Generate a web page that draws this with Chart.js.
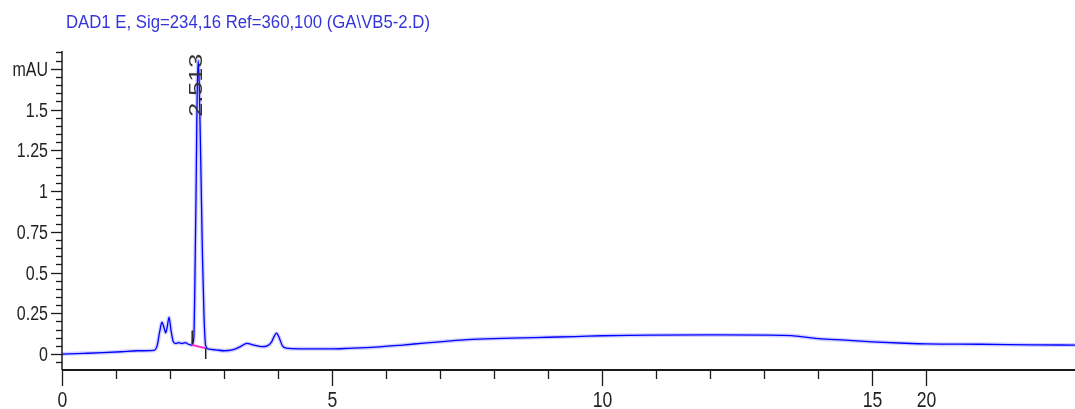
<!DOCTYPE html>
<html>
<head>
<meta charset="utf-8">
<script src="https://cdn.jsdelivr.net/npm/chart.js@4.4.1/dist/chart.umd.min.js"></script>
<style>
  html,body{margin:0;padding:0;background:#fff;}
  canvas{display:block;}
</style>
</head>
<body>
<canvas id="c" width="1075" height="409"></canvas>
<script>
// ---- data (retention time in min, signal in mAU) ----
const titleText = "DAD1 E, Sig=234,16 Ref=360,100 (GA\\VB5-2.D)";
const yUnit = "mAU";
const times = [0.0, 0.4, 0.75, 1.1, 1.4, 1.7, 1.76, 1.81, 1.85, 1.89, 1.92, 1.95, 1.98, 2.02, 2.06, 2.1, 2.16, 2.22, 2.28, 2.34, 2.4,
  2.44, 2.46, 2.48, 2.5, 2.52, 2.54, 2.57, 2.6, 2.63, 2.66, 2.72, 2.85, 3.0, 3.15, 3.3, 3.42, 3.55, 3.7, 3.8, 3.88, 3.93, 3.97, 4.02, 4.08, 4.15,
  4.4, 5.0, 5.3, 5.8, 6.3, 6.7, 7.1, 7.5, 8.0, 8.5, 9.0, 9.5, 10.0, 10.5, 11.0, 12.0, 13.0, 13.5, 13.8, 14.0, 14.5, 15.0, 15.6, 16.0, 17.0, 18.0, 18.75];
const signal = [0.0, 0.004, 0.008, 0.014, 0.02, 0.023, 0.05, 0.14, 0.195, 0.16, 0.13, 0.17, 0.225, 0.14, 0.075, 0.065, 0.07, 0.065, 0.07, 0.06, 0.055,
  0.10, 0.45, 0.95, 1.55, 1.80, 1.66, 1.15, 0.6, 0.22, 0.05, 0.03, 0.025, 0.02, 0.025, 0.045, 0.065, 0.055, 0.045, 0.05, 0.075, 0.11, 0.128, 0.1, 0.05, 0.036,
  0.032, 0.032, 0.035, 0.042, 0.055, 0.067, 0.078, 0.088, 0.095, 0.099, 0.103, 0.107, 0.112, 0.115, 0.116, 0.117, 0.116, 0.113, 0.102, 0.094, 0.085, 0.075, 0.066, 0.062, 0.06, 0.056, 0.055];
// integrated peak
const peakTime = 2.513;
const peakLabel = "2.513";
const peakApex = 1.80;
const baselineTimes = [2.41, 2.66];
const baselineValues = [0.055, 0.035];
const startMarkTimes = [2.41, 2.41];
const startMarkValues = [0.06, 0.145];
const endMarkTimes = [2.66, 2.66];
const endMarkValues = [0.035, -0.03];
// axes
const xMajorTicks = [0, 5, 10, 15, 16];
const xTickLabels = ["0", "5", "10", "15", "20"];
const xMinorTicks = [1, 2, 3, 4, 6, 7, 8, 9, 11, 12, 13, 14];
const yMajorTicks = [0, 0.25, 0.5, 0.75, 1, 1.25, 1.5, 1.75];
const yTickLabels = ["0", "0.25", "0.5", "0.75", "1", "1.25", "1.5", yUnit];
const yMinorStep = 0.05;
const xRange = [0, 18.75];
const yRange = [-0.098, 1.859];

const pts = (xs, ys) => xs.map((t, i) => ({x: t, y: ys[i]}));
const FONT = '"Liberation Sans",Arial,sans-serif';

function narrowText(ctx, text, x, y, size, sx, align, baseline) {
  ctx.save();
  ctx.font = size + 'px ' + FONT;
  ctx.textAlign = align; ctx.textBaseline = baseline;
  ctx.translate(x, y);
  ctx.scale(sx, 1);
  ctx.fillText(text, 0, 0);
  ctx.restore();
}

const decor = {
  id: 'decor',
  afterDraw(chart) {
    const {ctx, chartArea: a, scales: {x, y}} = chart;
    ctx.save();
    ctx.strokeStyle = '#1a1a1a';
    // y axis line
    ctx.lineWidth = 1.5;
    ctx.beginPath(); ctx.moveTo(a.left, a.top); ctx.lineTo(a.left, a.bottom); ctx.stroke();
    // y ticks
    ctx.lineWidth = 1.3;
    const nMin = Math.ceil(yRange[0] / yMinorStep), nMax = Math.floor(yRange[1] / yMinorStep);
    for (let k = nMin; k <= nMax; k++) {
      const v = k * yMinorStep;
      const isMajor = yMajorTicks.some(m => Math.abs(m - v) < 1e-6);
      const py = Math.round(y.getPixelForValue(v)) + 0.5;
      ctx.beginPath(); ctx.moveTo(a.left - (isMajor ? 11 : 6), py); ctx.lineTo(a.left, py); ctx.stroke();
    }
    // y labels
    ctx.fillStyle = '#222';
    yMajorTicks.forEach((v, i) => {
      narrowText(ctx, yTickLabels[i], a.left - 14, y.getPixelForValue(v) + 7, 20, 0.8, 'right', 'alphabetic');
    });
    // x axis line
    ctx.lineWidth = 2;
    ctx.beginPath(); ctx.moveTo(a.left, a.bottom); ctx.lineTo(a.right, a.bottom); ctx.stroke();
    ctx.lineWidth = 1.3;
    xMajorTicks.forEach((v, i) => {
      const px = Math.round(x.getPixelForValue(v)) + 0.5;
      ctx.beginPath(); ctx.moveTo(px, a.bottom); ctx.lineTo(px, a.bottom + 16); ctx.stroke();
      narrowText(ctx, xTickLabels[i], px, a.bottom + 37, 22, 0.8, 'center', 'alphabetic');
    });
    xMinorTicks.forEach(v => {
      const px = Math.round(x.getPixelForValue(v)) + 0.5;
      ctx.beginPath(); ctx.moveTo(px, a.bottom); ctx.lineTo(px, a.bottom + 9); ctx.stroke();
    });
    // title
    ctx.fillStyle = '#3434dc';
    ctx.font = '18px ' + FONT;
    const tw = ctx.measureText(titleText).width;
    narrowText(ctx, titleText, 66, 28, 18, 364 / tw, 'left', 'alphabetic');
    // peak label (rotated)
    const lx = x.getPixelForValue(peakTime) - 1;
    const ly = y.getPixelForValue(peakApex) - 7;
    ctx.translate(lx, ly);
    ctx.rotate(-Math.PI / 2);
    ctx.scale(1.4, 1);
    ctx.fillStyle = '#333';
    ctx.font = '18px ' + FONT;
    ctx.textAlign = 'right'; ctx.textBaseline = 'middle';
    ctx.fillText(peakLabel, 0, 0);
    ctx.restore();
  }
};

new Chart(document.getElementById('c'), {
  type: 'line',
  data: {
    datasets: [
      {data: pts(times, signal), borderColor: 'rgba(120,120,255,0.35)', borderWidth: 4, pointRadius: 0, cubicInterpolationMode: 'monotone', order: 3},
      {data: pts(times, signal), borderColor: '#0000ff', borderWidth: 1.3, pointRadius: 0, cubicInterpolationMode: 'monotone', order: 2},
      {data: pts(baselineTimes, baselineValues), borderColor: '#ff33cc', borderWidth: 2, pointRadius: 0, order: 1},
      {data: pts(startMarkTimes, startMarkValues), borderColor: '#222', borderWidth: 1.5, pointRadius: 0, order: 0},
      {data: pts(endMarkTimes, endMarkValues), borderColor: '#222', borderWidth: 1.5, pointRadius: 0, order: 0}
    ]
  },
  options: {
    responsive: false,
    devicePixelRatio: 1,
    animation: false,
    clip: false,
    layout: {padding: {top: 51, right: 0, left: 0, bottom: 0}},
    plugins: {legend: {display: false}, tooltip: {enabled: false}, title: {display: false}},
    scales: {
      x: {
        type: 'linear', min: xRange[0], max: xRange[1],
        grid: {display: false, drawTicks: false}, border: {display: false},
        afterBuildTicks: s => { s.ticks = xMajorTicks.map(v => ({value: v})); },
        afterFit: s => { s.height = 39; },
        ticks: {display: false}
      },
      y: {
        type: 'linear', min: yRange[0], max: yRange[1],
        grid: {display: false, drawTicks: false}, border: {display: false},
        afterBuildTicks: s => { s.ticks = yMajorTicks.map(v => ({value: v})); },
        afterFit: s => { s.width = 62; },
        ticks: {display: false}
      }
    }
  },
  plugins: [decor]
});
</script>
</body>
</html>
